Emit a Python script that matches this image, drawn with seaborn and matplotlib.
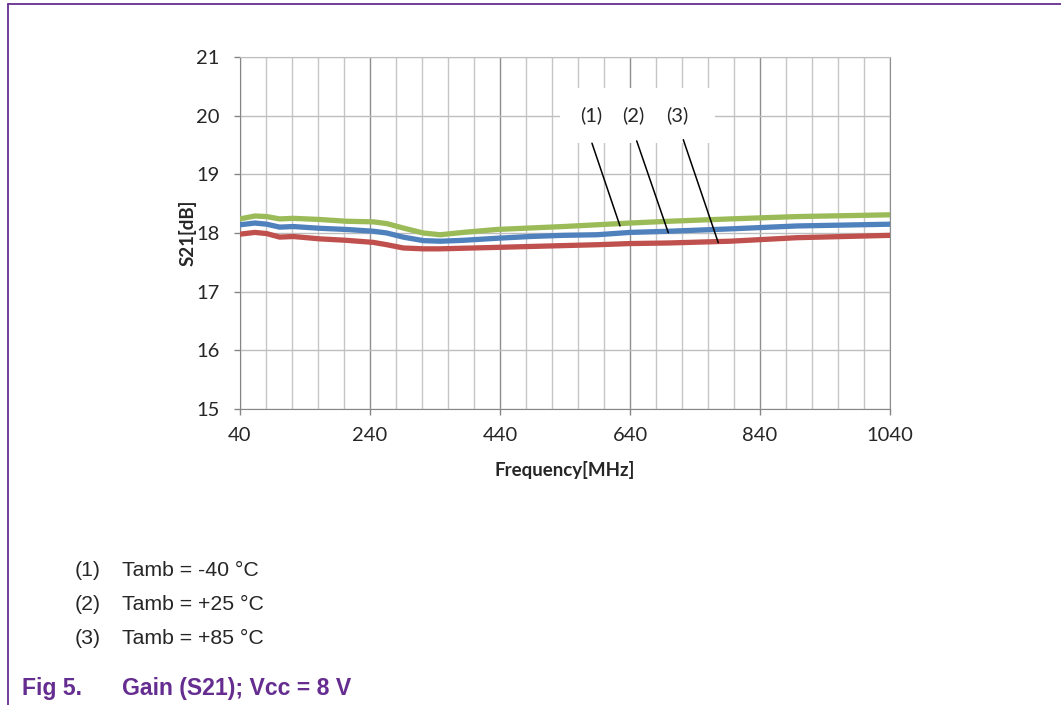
import numpy as np
import pandas as pd
import matplotlib.pyplot as plt
import seaborn as sns
from matplotlib.lines import Line2D
from matplotlib.patches import Rectangle

# values
freq = [40, 63, 81, 101, 122, 163, 204, 245, 266, 291, 322, 348, 383, 435, 486, 537, 589, 640, 700, 794, 897, 1040]
s21_m40 = [18.24, 18.29, 18.28, 18.24, 18.25, 18.23, 18.20, 18.19, 18.16, 18.085, 18.0, 17.97,
           18.01, 18.06, 18.085, 18.11, 18.14, 18.17, 18.20, 18.24, 18.28, 18.31]
s21_p25 = [18.14, 18.17, 18.15, 18.10, 18.11, 18.08, 18.06, 18.03, 18.0, 17.93, 17.87, 17.86,
           17.875, 17.91, 17.94, 17.96, 17.97, 18.01, 18.03, 18.07, 18.12, 18.15]
s21_p85 = [17.98, 18.01, 17.99, 17.93, 17.94, 17.90, 17.875, 17.84, 17.80, 17.745, 17.73, 17.73,
           17.74, 17.755, 17.77, 17.785, 17.80, 17.82, 17.83, 17.86, 17.92, 17.96]
curves = ['(1)', '(2)', '(3)']
captions = ['Tamb = -40 °C', 'Tamb = +25 °C', 'Tamb = +85 °C']
colors = ['#9BBB59', '#4F81BD', '#C0504D']
purple = '#662D91'

df = pd.DataFrame({
    'freq': freq * 3,
    'S21': s21_m40 + s21_p25 + s21_p85,
    'curve': [c for c in curves for _ in freq],
})

sns.set_style('white')
plt.rcParams['font.family'] = ['Lato', 'DejaVu Sans']

W, H = 1061, 705
fig = plt.figure(figsize=(W / 100, H / 100), dpi=100)
ax = fig.add_axes([240 / W, 1 - 409 / H, 650 / W, 352 / H])

sns.lineplot(data=df, x='freq', y='S21', hue='curve', palette=colors,
             linewidth=3.8, legend=False, ax=ax, zorder=3)

ax.set_xlim(40, 1040)
ax.set_ylim(15, 21)
ax.set_xticks(np.arange(40, 1041, 200))
ax.set_xticks(np.arange(40, 1041, 40), minor=True)
ax.set_yticks(np.arange(15, 22, 1))
ax.set_axisbelow(True)
ax.grid(which='minor', axis='x', color='#c6c6c6', lw=1)
ax.grid(which='major', axis='x', color='#8e8e8e', lw=1)
ax.grid(which='major', axis='y', color='#bebebe', lw=1)
for side in ['left', 'bottom']:
    ax.spines[side].set_color('#868686')
ax.spines['top'].set_color('#bebebe')
ax.spines['right'].set_color('#8e8e8e')

ax.tick_params(axis='y', which='major', direction='out', length=4, width=1,
               color='#868686', pad=10.5, labelsize=14.5, left=True)
ax.tick_params(axis='x', which='major', direction='out', length=4, width=1,
               color='#868686', pad=9, labelsize=14.5, bottom=True)
ax.tick_params(axis='x', which='minor', length=0)

ax.set_xlabel('Frequency[MHz]', fontsize=13.5, fontweight='bold')
ax.set_ylabel('S21[dB]', fontsize=13.5, fontweight='bold')
ax.xaxis.set_label_coords(0.5, -0.148)
ax.yaxis.set_label_coords(-0.067, 0.5)

# label box and leader lines
ax.add_patch(Rectangle((532, 19.53), 239, 0.94, facecolor='white', edgecolor='none', zorder=2))
for lab, tx in zip(curves, [580.7, 644.3, 713.4]):
    ax.text(tx, 20.0, lab, ha='center', va='center', fontsize=14.5, zorder=4)
leaders = [((581.5, 624.6), (19.53, 18.12)),
           ((650.3, 698.9), (19.57, 18.005)),
           ((722.0, 775.8), (19.59, 17.835))]
for xs, ys in leaders:
    ax.plot(xs, ys, color='black', lw=1.1, zorder=4)

# caption under the chart
for i, (c, t) in enumerate(zip(curves, captions)):
    yy = 1 - [571, 605, 638][i] / H
    fig.text(75 / W, yy, c, fontsize=15.3, family='Liberation Sans', va='center')
    fig.text(122 / W, yy, t, fontsize=15.3, family='Liberation Sans', va='center')
fig.text(22 / W, 1 - 689 / H, 'Fig 5.', fontsize=16.6, family='Liberation Sans',
         fontweight='bold', color=purple, va='center')
fig.text(122 / W, 1 - 689 / H, 'Gain (S21); Vcc = 8 V', fontsize=16.6, family='Liberation Sans',
         fontweight='bold', color=purple, va='center')

# frame lines (top and left)
fig.add_artist(Line2D([8 / W, 1], [1 - 4 / H] * 2, color=purple, lw=1.3))
fig.add_artist(Line2D([8 / W] * 2, [0, 1 - 4 / H], color=purple, lw=1.3))

fig.savefig('out.png', dpi=100)
